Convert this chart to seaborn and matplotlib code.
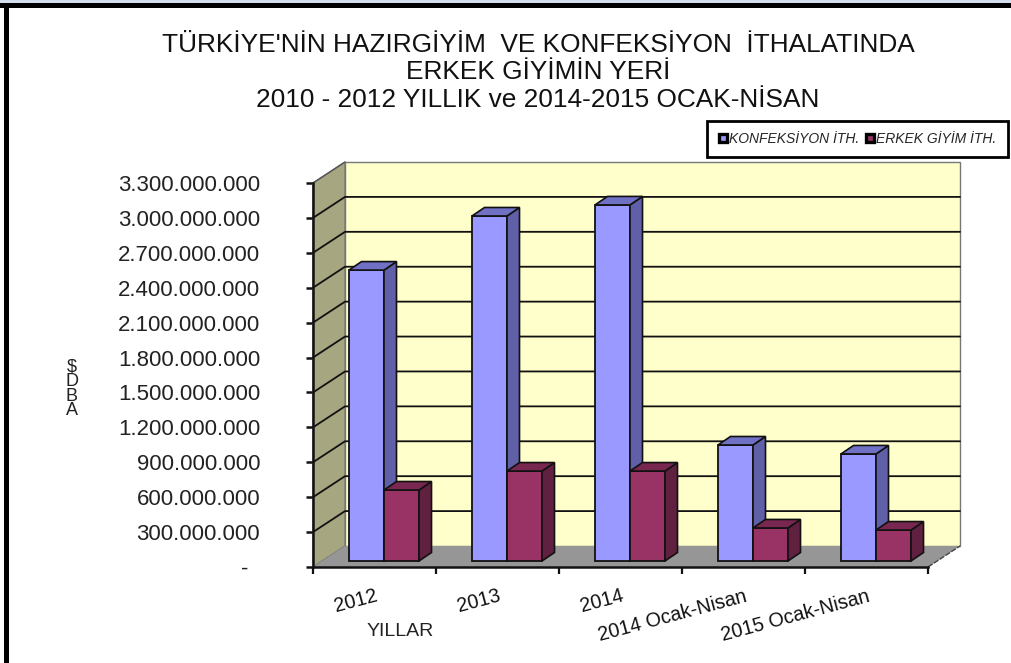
import matplotlib
matplotlib.use("Agg")
import matplotlib.pyplot as plt
import seaborn as sns
import pandas as pd
from matplotlib.lines import Line2D
from matplotlib.patches import Polygon, Rectangle
from matplotlib.ticker import FixedLocator, FuncFormatter

W, H = 1012, 663

# degerler
years = ["2012", "2013", "2014", "2014 Ocak-Nisan", "2015 Ocak-Nisan"]
konfeksiyon = [2.50e9, 2.965e9, 3.06e9, 0.997e9, 0.92e9]
erkek = [0.61e9, 0.773e9, 0.773e9, 0.284e9, 0.266e9]
y_ticks = list(range(0, 3300000001, 300000000))
series_names = ["KONFEKSİYON İTH.", "ERKEK GİYİM İTH."]
title_lines = [
    "TÜRKİYE'NİN HAZIRGİYİM  VE KONFEKSİYON  İTHALATINDA",
    "ERKEK GİYİMİN YERİ",
    "2010 - 2012 YILLIK ve 2014-2015 OCAK-NİSAN",
]

BLUE = ("#9999FF", "#6060A8", "#7070C4")
RED = ("#993366", "#602040", "#782850")

sns.set_theme(style="white")
plt.rcParams["font.family"] = ["Liberation Sans", "DejaVu Sans"]

df = pd.DataFrame({
    "yil": years * 2,
    "deger": konfeksiyon + erkek,
    "seri": [series_names[0]] * 5 + [series_names[1]] * 5,
})

fig = plt.figure(figsize=(W / 100, H / 100), dpi=100, facecolor="white")
ax = fig.add_axes([313 / W, (H - 567) / H, 615 / W, 384 / H])
ax.patch.set_visible(False)

sns.barplot(data=df, x="yil", y="deger", hue="seri", order=years,
            palette=[BLUE[0], RED[0]], saturation=1, width=70 / 123, gap=0, legend=False,
            edgecolor="#111111", linewidth=1.3, ax=ax, zorder=5)

ax.set_xlim(-0.5, 4.5)
ax.set_ylim(0, 3300000000)

# piksel -> veri birimi
px = 1 / 123
py = 3300000000 / 384
wall_dx, wall_dy = 32 * px, 21 * py
bar_dx, bar_dy = 9.5 * px, 6 * py
depth_dx, depth_dy = 12.5 * px, 8.5 * py

x0, x1 = -0.5, 4.5
y_top = 3300000000

# duvarlar ve taban
ax.add_patch(Polygon([(x0 + wall_dx, wall_dy), (x1 + wall_dx, wall_dy),
                      (x1 + wall_dx, y_top + wall_dy), (x0 + wall_dx, y_top + wall_dy)],
                     fc="#FFFFCC", ec="#777777", lw=1, clip_on=False, zorder=1))
ax.add_patch(Polygon([(x0, 0), (x0 + wall_dx, wall_dy),
                      (x0 + wall_dx, y_top + wall_dy), (x0, y_top)],
                     fc="#A6A681", ec="#777777", lw=1, clip_on=False, zorder=1))
ax.add_patch(Polygon([(x0, 0), (x1, 0), (x1 + wall_dx, wall_dy), (x0 + wall_dx, wall_dy)],
                     fc="#969696", ec="none", clip_on=False, zorder=2))
ax.plot([x1, x1 + wall_dx], [0, wall_dy], color="#444444", lw=1, ls=(0, (4, 1)),
        clip_on=False, zorder=2)

for v in y_ticks[1:-1]:
    ax.plot([x0, x0 + wall_dx, x1 + wall_dx], [v, v + wall_dy, v + wall_dy],
            color="#111111", lw=1.3, clip_on=False, zorder=1.5)
ax.plot([x0, x0 + wall_dx], [y_top, y_top + wall_dy], color="#555555", lw=1,
        clip_on=False, zorder=1.5)

# 3B yuzler, seaborn'un cubuklarindan turetilir
n = len(years)
for i, bar in enumerate(ax.patches[:2 * n]):
    cols = BLUE if i < n else RED
    z = 5 if i < n else 6
    bar.set_x(bar.get_x() + bar_dx)
    h = bar.get_height()
    bar.set_y(bar_dy)
    bar.set_zorder(z)
    left, right = bar.get_x(), bar.get_x() + bar.get_width()
    base, top = bar_dy, bar_dy + h
    ax.add_patch(Polygon([(right, base), (right + depth_dx, base + depth_dy),
                          (right + depth_dx, top + depth_dy), (right, top)],
                         fc=cols[1], ec="#111111", lw=1.2, clip_on=False, zorder=z))
    ax.add_patch(Polygon([(left, top), (right, top), (right + depth_dx, top + depth_dy),
                          (left + depth_dx, top + depth_dy)],
                         fc=cols[2], ec="#111111", lw=1.2, clip_on=False, zorder=z))

# eksenler
sns.despine(ax=ax, top=True, right=True)
for side in ["left", "bottom"]:
    ax.spines[side].set_color("#111111")
    ax.spines[side].set_linewidth(1.8)
    ax.spines[side].set_zorder(7)

ax.yaxis.set_major_locator(FixedLocator(y_ticks))
ax.yaxis.set_major_formatter(FuncFormatter(
    lambda v, pos: f"{v:,.0f}".replace(",", ".") if v > 0 else "-  "))
ax.tick_params(axis="y", which="major", left=True, length=5, width=1.8, color="#111111",
               pad=33, labelsize=16, labelcolor="#222222")

ax.set_xticks([i - 0.5 for i in range(n + 1)], minor=True)
ax.set_xticks(range(n))
ax.set_xticklabels(years, rotation=15, ha="right", rotation_mode="anchor")
ax.tick_params(axis="x", which="minor", bottom=True, length=5, width=1.6, color="#111111")
ax.tick_params(axis="x", which="major", bottom=False, pad=8, labelsize=14.2,
               labelcolor="#111111")

ax.set_xlabel("YILLAR", fontsize=14, color="#222222")
ax.xaxis.set_label_coords((400 - 313) / 615, (567 - 631) / 384, transform=ax.transAxes)
ax.xaxis.label.set_verticalalignment("center")

ax.set_ylabel("$\nD\nB\nA", rotation=0, fontsize=13, color="#222222", linespacing=0.8,
              ha="center", va="center", parse_math=False)
ax.yaxis.set_label_coords((72 - 313) / 615, (567 - 389) / 384, transform=ax.transAxes)

# baslik
fig.suptitle("\n".join(title_lines), x=538 / W, y=1 - 33 / H, va="top", fontsize=18.9,
             color="#111111", linespacing=1.18)

# lejant
handles = [
    Line2D([], [], ls="none", marker="s", ms=6, mfc=BLUE[0], mec="black", mew=2.4),
    Line2D([], [], ls="none", marker="s", ms=6, mfc=RED[0], mec="black", mew=2.4),
]
leg = fig.legend(handles, series_names, ncols=2, loc="center",
                 bbox_to_anchor=(857.5 / W, 1 - 139 / H), frameon=True, fancybox=False,
                 framealpha=1, edgecolor="black", handlelength=0.7, handletextpad=0.1,
                 columnspacing=0.4, borderpad=0.8, borderaxespad=0,
                 prop={"size": 10, "style": "italic"})
leg.get_frame().set_linewidth(2)

# dis cerceve
fig.add_artist(Rectangle((0, 1 - 3 / H), 1, 3 / H, transform=fig.transFigure,
                         fc="#D5DEEE", ec="none"))
fig.add_artist(Rectangle((0, 1 - 8 / H), 1, 5 / H, transform=fig.transFigure,
                         fc="black", ec="none"))
fig.add_artist(Rectangle((4 / W, 0), 5 / W, 1 - 3 / H, transform=fig.transFigure,
                         fc="black", ec="none"))

fig.savefig("out.png", dpi=100)
plt.close(fig)
